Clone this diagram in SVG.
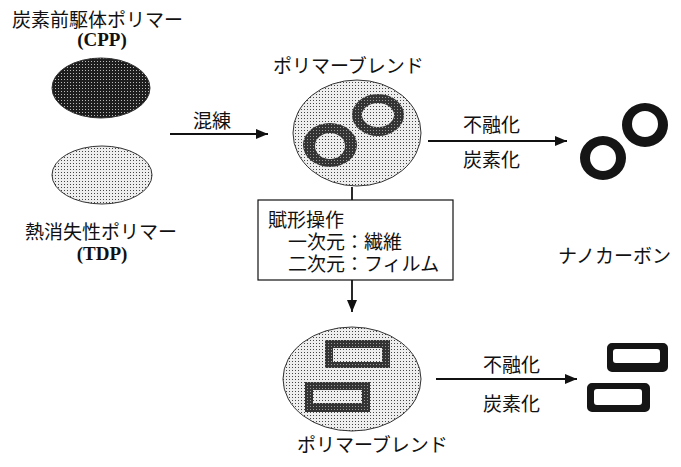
<svg xmlns="http://www.w3.org/2000/svg" width="681" height="467" viewBox="0 0 681 467">
<style>
.jp{font-family:"Noto Sans CJK JP","Noto Sans CJK SC",sans-serif;font-size:19px;fill:#111}
.en{font-family:"Liberation Serif",serif;font-size:19px;font-weight:bold;fill:#111}
.ln{stroke:#111;stroke-width:1.8;fill:none}
.ol{stroke:#333;stroke-width:1}
</style>
<defs>
<pattern id="dark" width="3" height="3" patternUnits="userSpaceOnUse">
<rect width="3" height="3" fill="#1e1e1e"/>
<rect x="1" y="1" width="1" height="1" fill="#bbb"/>
</pattern>
<pattern id="light" width="3" height="3" patternUnits="userSpaceOnUse">
<rect width="3" height="3" fill="#eeeeee"/>
<rect x="1" y="1" width="1" height="1" fill="#444"/>
</pattern>
<pattern id="ring" width="3" height="3" patternUnits="userSpaceOnUse">
<rect width="3" height="3" fill="#333"/>
<rect x="1" y="1" width="1" height="1" fill="#999"/>
</pattern>
<marker id="ah" markerWidth="12" markerHeight="10" refX="12" refY="5" orient="auto" markerUnits="userSpaceOnUse">
<path d="M0,0 L12,5 L0,10 Z" fill="#111"/>
</marker>
</defs>

<g id="cpp">
<ellipse cx="101" cy="88" rx="49" ry="30" fill="url(#dark)" class="ol"/>
<text class="jp" x="12" y="27">炭素前駆体ポリマー</text>
<text class="en" x="102" y="46" text-anchor="middle">(CPP)</text>
</g>

<g id="tdp">
<ellipse cx="102" cy="175" rx="50" ry="29" fill="url(#light)" class="ol"/>
<text class="jp" x="25" y="239">熱消失性ポリマー</text>
<text class="en" x="102" y="260" text-anchor="middle">(TDP)</text>
</g>

<g id="blend1">
<text class="jp" x="273" y="73">ポリマーブレンド</text>
<ellipse cx="357" cy="133" rx="64" ry="53" fill="url(#light)" class="ol"/>
<path fill-rule="evenodd" fill="url(#ring)" d="M352,115 a26,21 0 1,0 52,0 a26,21 0 1,0 -52,0 Z M362,115 a16,12 0 1,0 32,0 a16,12 0 1,0 -32,0 Z"/>
<path fill-rule="evenodd" fill="url(#ring)" d="M303,145 a27,22 0 1,0 54,0 a27,22 0 1,0 -54,0 Z M315,146 a15,13 0 1,0 30,0 a15,13 0 1,0 -30,0 Z"/>
</g>

<g id="nanocarbon">
<path fill-rule="evenodd" fill="#151515" d="M622,125 a23,22 0 1,0 46,0 a23,22 0 1,0 -46,0 Z M632,124 a13,13 0 1,0 26,0 a13,13 0 1,0 -26,0 Z"/>
<path fill-rule="evenodd" fill="#151515" d="M580,158 a23,22 0 1,0 46,0 a23,22 0 1,0 -46,0 Z M590,158 a13,13 0 1,0 26,0 a13,13 0 1,0 -26,0 Z"/>
<text class="jp" x="558" y="263">ナノカーボン</text>
</g>

<g id="process">
<rect x="258" y="200" width="195" height="80" fill="#fff" stroke="#111" stroke-width="1.2"/>
<text class="jp" x="268" y="227">賦形操作</text>
<text class="jp" x="288" y="249">一次元：繊維</text>
<text class="jp" x="288" y="271">二次元：フィルム</text>
</g>

<g id="blend2">
<ellipse cx="352" cy="379" rx="69" ry="52" fill="url(#light)" class="ol"/>
<path fill-rule="evenodd" fill="url(#ring)" d="M325,340 h65 v28 h-65 Z M333,348 v14 h49 v-14 Z"/>
<path fill-rule="evenodd" fill="url(#ring)" d="M305,382 h65 v30 h-65 Z M313,390 v13 h49 v-13 Z"/>
<text class="jp" x="297" y="452">ポリマーブレンド</text>
</g>

<g id="carbonfilm">
<path fill-rule="evenodd" fill="#151515" d="M612,343 h51 a5,5 0 0 1 5,5 v19 a5,5 0 0 1 -5,5 h-51 a5,5 0 0 1 -5,-5 v-19 a5,5 0 0 1 5,-5 Z M616,349 a3,3 0 0 0 -3,3 v8 a3,3 0 0 0 3,3 h41 a3,3 0 0 0 3,-3 v-8 a3,3 0 0 0 -3,-3 Z"/>
<path fill-rule="evenodd" fill="#151515" d="M592,383 h53 a5,5 0 0 1 5,5 v19 a5,5 0 0 1 -5,5 h-53 a5,5 0 0 1 -5,-5 v-19 a5,5 0 0 1 5,-5 Z M597,389 a3,3 0 0 0 -3,3 v10 a3,3 0 0 0 3,3 h42 a3,3 0 0 0 3,-3 v-10 a3,3 0 0 0 -3,-3 Z"/>
</g>

<g id="connectors">
<line class="ln" x1="170" y1="134" x2="268" y2="134" marker-end="url(#ah)"/>
<text class="jp" x="193" y="128">混練</text>
<line class="ln" x1="428" y1="141" x2="567" y2="141" marker-end="url(#ah)"/>
<text class="jp" x="463" y="132">不融化</text>
<text class="jp" x="463" y="167">炭素化</text>
<line class="ln" x1="352" y1="187" x2="352" y2="200"/>
<line class="ln" x1="352" y1="280" x2="352" y2="312" marker-end="url(#ah)"/>
<line class="ln" x1="436" y1="379" x2="577" y2="379" marker-end="url(#ah)"/>
<text class="jp" x="483" y="372">不融化</text>
<text class="jp" x="483" y="411">炭素化</text>
</g>
</svg>
